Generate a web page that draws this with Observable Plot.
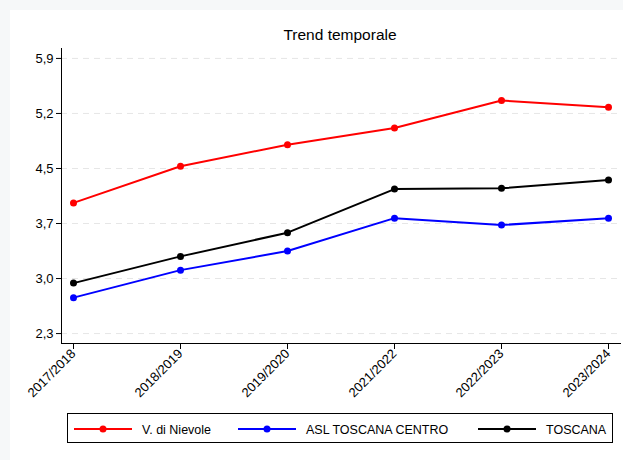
<!DOCTYPE html>
<html>
<head>
<meta charset="utf-8">
<script src="https://cdn.jsdelivr.net/npm/d3@7"></script>
<script src="https://cdn.jsdelivr.net/npm/@observablehq/plot@0.6"></script>
<style>
  html, body { margin: 0; padding: 0; background: #f6f8f9; }
  #chart { width: 623px; height: 460px; }
</style>
</head>
<body>
<div id="chart"></div>
<script>
const years = ["2017/2018", "2018/2019", "2019/2020", "2021/2022", "2022/2023", "2023/2024"];
const seriesNames = ["V. di Nievole", "ASL TOSCANA CENTRO", "TOSCANA"];
const seriesColors = ["#ff0000", "#0000ff", "#000000"];
const vNievole = [4.01, 4.49, 4.77, 4.99, 5.35, 5.26];
const aslCentro = [2.77, 3.13, 3.38, 3.81, 3.72, 3.81];
const toscana = [2.96, 3.31, 3.62, 4.19, 4.20, 4.31];
const yTicks = [2.3, 3.02, 3.74, 4.46, 5.18, 5.9];
const titleText = "Trend temporale";

const seriesValues = [vNievole, aslCentro, toscana];
const data = [];
seriesNames.forEach((name, i) => {
  years.forEach((yr, j) => data.push({ series: name, year: yr, value: seriesValues[i][j] }));
});

const fmt = d => d.toFixed(1).replace(".", ",");

const svg = Plot.plot({
  width: 623,
  height: 460,
  marginTop: 48,
  marginBottom: 117,
  marginLeft: 61,
  marginRight: 3,
  style: { fontFamily: "'Liberation Sans', Arial, sans-serif", fontSize: "13px", background: "transparent", color: "#000", overflow: "visible" },
  x: { type: "point", domain: years, range: [71, 609], padding: 0 },
  y: { domain: [2.17, 6.03], range: [343, 48] },
  color: { domain: seriesNames, range: seriesColors },
  marks: [
    Plot.ruleY(yTicks, { y: d => d, stroke: "#e6e6e6", strokeWidth: 1, strokeDasharray: "6,5", strokeOpacity: 1 }),
    Plot.frame({ anchor: "left", stroke: "#000", strokeOpacity: 1 }),
    Plot.frame({ anchor: "bottom", stroke: "#000", strokeOpacity: 1 }),
    Plot.axisY({ ticks: yTicks, tickFormat: fmt, tickSize: 5, tickPadding: 3, fontSize: 13, label: null, strokeOpacity: 1 }),
    Plot.axisX({ tickRotate: -45, tickSize: 6, tickPadding: 2, fontSize: 13, label: null, strokeOpacity: 1 }),
    Plot.line(data, { x: "year", y: "value", z: "series", stroke: "series", strokeWidth: 2 }),
    Plot.dot(data, { x: "year", y: "value", fill: "series", r: 3.5 })
  ]
});

const ns = "http://www.w3.org/2000/svg";
const bg = document.createElementNS(ns, "rect");
bg.setAttribute("x", 10); bg.setAttribute("y", 10);
bg.setAttribute("width", 613); bg.setAttribute("height", 450);
bg.setAttribute("fill", "#ffffff");
svg.insertBefore(bg, svg.firstChild);

const s = d3.select(svg);
s.append("text")
  .attr("x", 340).attr("y", 40)
  .attr("text-anchor", "middle")
  .attr("font-size", 15.5)
  .attr("fill", "#000")
  .text(titleText);

const lg = s.append("g").attr("text-anchor", "start");
lg.append("rect")
  .attr("x", 67.5).attr("y", 413.5).attr("width", 545).attr("height", 29)
  .attr("fill", "#fff").attr("stroke", "#000").attr("stroke-width", 1);
const legendX = [74, 238, 478];
seriesNames.forEach((name, i) => {
  const x0 = legendX[i];
  lg.append("line").attr("x1", x0).attr("x2", x0 + 58).attr("y1", 429).attr("y2", 429)
    .attr("stroke", seriesColors[i]).attr("stroke-width", 2);
  lg.append("circle").attr("cx", x0 + 29).attr("cy", 429).attr("r", 3.5).attr("fill", seriesColors[i]);
  lg.append("text").attr("x", x0 + 68).attr("y", 433.5)
    .attr("text-anchor", "start")
    .attr("font-size", 12.5).attr("fill", "#000").text(name);
});

document.getElementById("chart").appendChild(svg);
</script>
</body>
</html>
